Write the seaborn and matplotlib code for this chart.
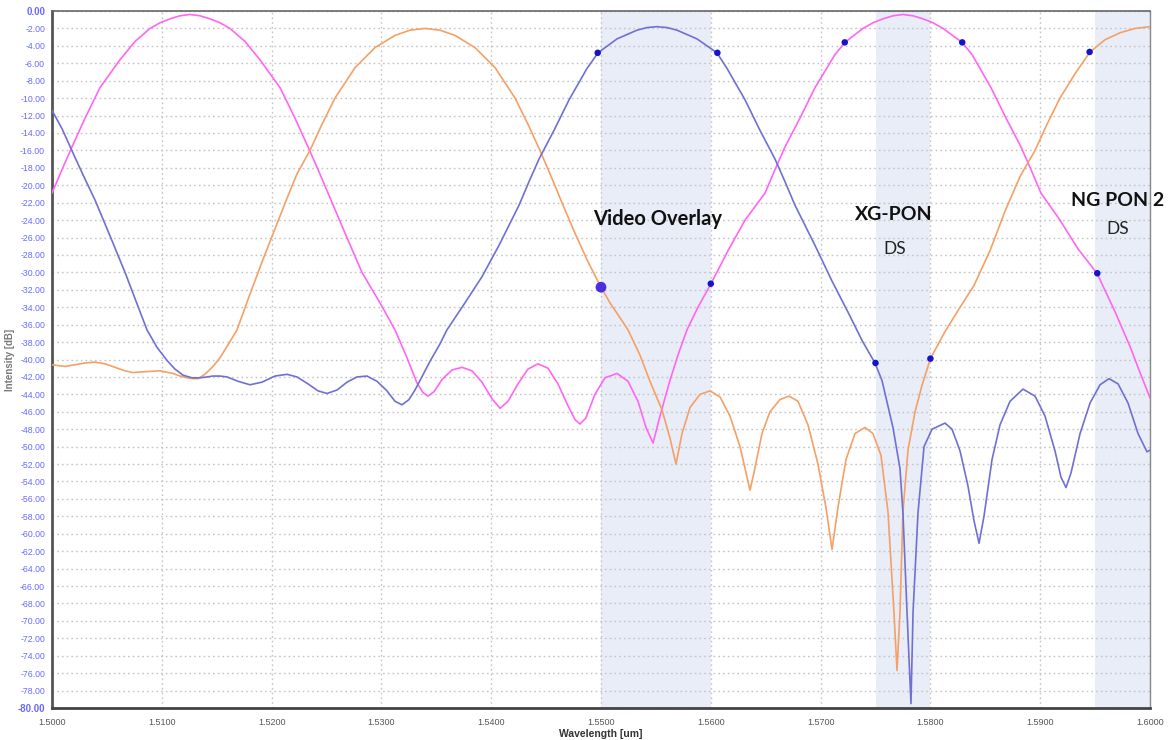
import numpy as np
import pandas as pd
import matplotlib
matplotlib.use("Agg")
import matplotlib.pyplot as plt
import seaborn as sns
from matplotlib.ticker import MultipleLocator, FuncFormatter

# ---------------- data ----------------
magenta_wl = [1.50000, 1.50091, 1.50182, 1.50301, 1.50437, 1.50619, 1.50756, 1.50893, 1.50984, 1.51075,
              1.51166, 1.51257, 1.51348, 1.51439, 1.51530, 1.51621, 1.51758, 1.51894, 1.52077, 1.52213,
              1.52332, 1.52423, 1.52514, 1.52669, 1.52823, 1.52987, 1.53124, 1.53233, 1.53324, 1.53379,
              1.53424, 1.53479, 1.53552, 1.53643, 1.53734, 1.53825, 1.53916, 1.54007, 1.54080, 1.54153,
              1.54244, 1.54335, 1.54426, 1.54517, 1.54608, 1.54699, 1.54763, 1.54809, 1.54863, 1.54945,
              1.55036, 1.55146, 1.55246, 1.55337, 1.55410, 1.55474, 1.55537, 1.55628, 1.55701, 1.55783,
              1.55883, 1.56002, 1.56157, 1.56312, 1.56494, 1.56585, 1.56676, 1.56812, 1.56949, 1.57131,
              1.57222, 1.57386, 1.57477, 1.57568, 1.57659, 1.57750, 1.57841, 1.57933, 1.58023, 1.58115,
              1.58288, 1.58379, 1.58552, 1.58689, 1.58825, 1.58916, 1.59007, 1.59180, 1.59344, 1.59517,
              1.59681, 1.59818, 1.59909, 1.60000]
magenta_db = [-20.9, -18.2, -15.6, -12.3, -8.8, -5.6, -3.5, -2.0, -1.35, -0.9,
              -0.55, -0.4, -0.55, -0.9, -1.35, -2.0, -3.5, -5.6, -8.8, -12.3,
              -15.6, -18.2, -20.9, -25.5, -30.0, -33.5, -36.6, -39.8, -42.7, -43.8,
              -44.2, -43.7, -42.3, -41.2, -40.9, -41.3, -42.6, -44.5, -45.6, -44.8,
              -42.8, -41.1, -40.5, -41.0, -42.8, -45.3, -46.9, -47.4, -46.7, -44.0,
              -42.1, -41.6, -42.5, -44.8, -47.8, -49.6, -46.5, -42.4, -39.5, -36.6,
              -34.0, -31.3, -27.5, -24.0, -20.9, -18.2, -15.6, -12.3, -8.8, -5.0,
              -3.6, -2.0, -1.35, -0.9, -0.55, -0.4, -0.55, -0.9, -1.35, -2.0,
              -3.6, -5.0, -8.8, -12.3, -15.6, -18.2, -20.9, -24.0, -27.3, -30.1,
              -34.5, -38.5, -41.5, -44.4]

orange_wl = [1.50000, 1.50055, 1.50118, 1.50209, 1.50301, 1.50392, 1.50483, 1.50574, 1.50665, 1.50738,
             1.50847, 1.50984, 1.51102, 1.51166, 1.51230, 1.51284, 1.51330, 1.51393, 1.51466, 1.51530,
             1.51594, 1.51685, 1.51794, 1.51913, 1.52031, 1.52140, 1.52231, 1.52350, 1.52459, 1.52577,
             1.52760, 1.52942, 1.53124, 1.53260, 1.53397, 1.53534, 1.53670, 1.53852, 1.54035, 1.54217,
             1.54335, 1.54444, 1.54563, 1.54654, 1.54763, 1.54882, 1.55000, 1.55082, 1.55173, 1.55246,
             1.55355, 1.55446, 1.55556, 1.55628, 1.55683, 1.55738, 1.55811, 1.55902, 1.55993, 1.56084,
             1.56175, 1.56266, 1.56330, 1.56357, 1.56393, 1.56466, 1.56539, 1.56630, 1.56712, 1.56794,
             1.56885, 1.56976, 1.57049, 1.57104, 1.57158, 1.57231, 1.57313, 1.57404, 1.57477, 1.57550,
             1.57614, 1.57668, 1.57696, 1.57723, 1.57750, 1.57796, 1.57860, 1.57923, 1.58000, 1.58133,
             1.58270, 1.58397, 1.58543, 1.58679, 1.58816, 1.58953, 1.59062, 1.59180, 1.59317, 1.59454,
             1.59590, 1.59727, 1.59863, 1.60000]
orange_db = [-40.6, -40.7, -40.8, -40.6, -40.4, -40.3, -40.5, -40.9, -41.3, -41.5,
             -41.4, -41.3, -41.6, -41.9, -42.1, -42.2, -42.2, -41.7, -40.8, -39.8,
             -38.5, -36.6, -32.8, -28.8, -25.0, -21.5, -18.7, -16.0, -13.0, -10.0,
             -6.5, -4.2, -2.8, -2.2, -2.0, -2.2, -2.8, -4.2, -6.5, -10.0,
             -13.0, -16.0, -19.5, -22.3, -25.5, -28.8, -31.7, -33.5, -35.2, -36.6,
             -39.5, -42.5, -45.8, -49.0, -52.0, -48.5, -45.5, -44.0, -43.6, -44.3,
             -46.5, -50.0, -53.5, -55.0, -53.0, -48.5, -46.0, -44.6, -44.2, -44.8,
             -47.5, -52.0, -57.0, -61.8, -57.0, -51.5, -48.5, -47.8, -48.5, -51.0,
             -57.5, -69.0, -75.7, -69.0, -57.5, -50.4, -46.0, -43.0, -39.9, -36.8,
             -34.0, -31.5, -27.5, -23.0, -19.0, -16.0, -13.0, -10.0, -7.2, -4.7,
             -3.3, -2.5, -2.0, -1.8]

blue_wl = [1.50000, 1.50091, 1.50209, 1.50301, 1.50392, 1.50528, 1.50665, 1.50774, 1.50865, 1.50956,
           1.51047, 1.51120, 1.51193, 1.51275, 1.51348, 1.51412, 1.51466, 1.51530, 1.51594, 1.51694,
           1.51803, 1.51913, 1.52031, 1.52140, 1.52231, 1.52332, 1.52423, 1.52505, 1.52596, 1.52687,
           1.52778, 1.52869, 1.52960, 1.53051, 1.53124, 1.53188, 1.53251, 1.53306, 1.53352, 1.53443,
           1.53534, 1.53597, 1.53761, 1.53916, 1.54071, 1.54253, 1.54344, 1.54435, 1.54572, 1.54709,
           1.54872, 1.54973, 1.55146, 1.55328, 1.55419, 1.55510, 1.55601, 1.55692, 1.55874, 1.56056,
           1.56148, 1.56312, 1.56448, 1.56585, 1.56676, 1.56767, 1.56949, 1.57104, 1.57259, 1.57377,
           1.57495, 1.57559, 1.57659, 1.57723, 1.57750, 1.57787, 1.57823, 1.57842, 1.57887, 1.57942,
           1.58015, 1.58133, 1.58197, 1.58270, 1.58342, 1.58397, 1.58443, 1.58488, 1.58561, 1.58634,
           1.58725, 1.58843, 1.58953, 1.59044, 1.59135, 1.59189, 1.59235, 1.59281, 1.59363, 1.59454,
           1.59545, 1.59627, 1.59709, 1.59800, 1.59891, 1.59973, 1.60000]
blue_db = [-11.4, -13.5, -16.8, -19.3, -21.7, -25.8, -30.0, -33.6, -36.6, -38.6,
           -40.1, -41.1, -41.8, -42.1, -42.1, -42.0, -41.9, -41.9, -42.0, -42.5,
           -42.9, -42.6, -41.9, -41.7, -42.0, -42.8, -43.6, -43.9, -43.5, -42.6,
           -42.0, -41.9, -42.5, -43.6, -44.8, -45.2, -44.6, -43.5, -42.4, -40.2,
           -38.2, -36.6, -33.5, -30.5, -26.9, -22.3, -19.6, -17.0, -13.7, -10.2,
           -6.6, -4.8, -3.2, -2.2, -1.9, -1.8, -1.9, -2.2, -3.2, -4.8,
           -6.6, -10.2, -13.7, -17.0, -19.6, -22.3, -26.9, -31.0, -34.8, -37.8,
           -40.4, -42.4, -47.8, -52.5, -57.6, -69.0, -79.5, -69.0, -57.6, -50.0,
           -48.0, -47.3, -48.0, -50.5, -54.5, -58.5, -61.1, -58.0, -51.5, -47.5,
           -44.8, -43.4, -44.2, -46.5, -50.5, -53.5, -54.7, -53.0, -48.5, -45.0,
           -42.9, -42.2, -42.8, -45.0, -48.5, -50.6, -50.4]

marker_wl = [1.5497, 1.5606, 1.5722, 1.5829, 1.5945, 1.5600, 1.5750, 1.5800, 1.5952]
marker_db = [-4.8, -4.8, -3.6, -3.6, -4.7, -31.3, -40.4, -39.9, -30.1]
big_marker_wl = [1.5500]
big_marker_db = [-31.7]

band_starts = [1.550, 1.575, 1.595]
band_ends = [1.560, 1.580, 1.600]

# ---------------- figure ----------------
sns.set_style("white")
plt.rcParams['font.family'] = ['Liberation Sans', 'DejaVu Sans']

fig = plt.figure(figsize=(11.74, 7.40), dpi=100)
ax = fig.add_axes([52 / 1174, 32 / 740, 1098 / 1174, 697 / 740])

for s, e in zip(band_starts, band_ends):
    ax.axvspan(s, e, color="#e8edf7", zorder=0, lw=0)

df_m = pd.DataFrame({"wl": magenta_wl, "db": magenta_db})
df_o = pd.DataFrame({"wl": orange_wl, "db": orange_db})
df_b = pd.DataFrame({"wl": blue_wl, "db": blue_db})

line_kw = dict(lw=1.2, sort=False, zorder=3, solid_joinstyle="round", antialiased=True)
sns.lineplot(data=df_m, x="wl", y="db", ax=ax, color="#ff66f2", **line_kw)
sns.lineplot(data=df_o, x="wl", y="db", ax=ax, color="#f5a066", **line_kw)
sns.lineplot(data=df_b, x="wl", y="db", ax=ax, color="#7070d4", **line_kw)

sns.scatterplot(x=marker_wl, y=marker_db, ax=ax, color="#1414c8", s=22, edgecolor="none", zorder=5)
sns.scatterplot(x=big_marker_wl, y=big_marker_db, ax=ax, color="#4a2ee0", s=60, edgecolor="none", zorder=5)

ax.set_xlim(1.5, 1.6)
ax.set_ylim(-80, 0)

ax.xaxis.set_major_locator(MultipleLocator(0.01))
ax.yaxis.set_major_locator(MultipleLocator(2))
ax.yaxis.set_minor_locator(MultipleLocator(0.5))
ax.xaxis.set_minor_locator(MultipleLocator(0.001))

ax.grid(True, which="major", axis="both", color="#c4c4c4", ls=(0, (1.2, 2.2)), lw=1.0, zorder=1)
ax.set_axisbelow(True)

ax.yaxis.set_major_formatter(FuncFormatter(lambda v, p: f"{v:.2f}"))
ax.xaxis.set_major_formatter(FuncFormatter(lambda v, p: f"{v:.4f}"))

ax.tick_params(axis="y", which="major", direction="out", length=4, width=1, colors="#555555",
               labelcolor="#6a6aff", labelsize=6.3, pad=1)
ax.tick_params(axis="y", which="minor", direction="out", length=2, width=0.6, colors="#777777")
ax.tick_params(axis="x", which="major", direction="inout", length=7, width=1, colors="#444444",
               labelcolor="#555555", labelsize=6.5, pad=4)
ax.tick_params(axis="x", which="minor", direction="in", length=2, width=0.5, colors="#888888")

for lbl in ax.get_yticklabels():
    if lbl.get_text() in ("0.00", "-80.00"):
        lbl.set_fontweight("bold")
        lbl.set_fontsize(7)
xl = ax.get_xticklabels()
xl[0].set_fontweight("bold"); xl[0].set_fontsize(8); xl[0].set_color("#222222")
xl[-1].set_fontweight("bold"); xl[-1].set_fontsize(8); xl[-1].set_color("#222222")

for side, c, w in (("left", "#555555", 2.0), ("bottom", "#444444", 2.0),
                   ("top", "#666666", 1.2), ("right", "#888888", 1.0)):
    ax.spines[side].set_visible(True)
    ax.spines[side].set_color(c)
    ax.spines[side].set_linewidth(w)

ax.set_xlabel("Wavelength [um]", fontsize=7.5, fontweight="bold", color="#333333", labelpad=1)
ax.set_ylabel("Intensity [dB]", fontsize=7, fontweight="bold", color="#777777", labelpad=2)

ann_font = ["Lato", "DejaVu Sans"]
ax.text(1.55515, -23.9, "Video Overlay", ha="center", va="center", fontsize=14.5,
        fontweight="bold", family=ann_font, color="#111111", zorder=6)
ax.text(1.57668, -23.4, "XG-PON", ha="center", va="center", fontsize=14,
        fontweight="bold", family=ann_font, color="#111111", zorder=6)
ax.text(1.57678, -27.3, "DS", ha="center", va="center", fontsize=12.5,
        family=ann_font, color="#222222", zorder=6)
ax.text(1.59709, -21.7, "NG PON 2", ha="center", va="center", fontsize=14,
        fontweight="bold", family=ann_font, color="#111111", zorder=6, clip_on=False)
ax.text(1.59707, -25.0, "DS", ha="center", va="center", fontsize=12.5,
        family=ann_font, color="#222222", zorder=6)

fig.savefig("out.png", dpi=100, facecolor="white")
